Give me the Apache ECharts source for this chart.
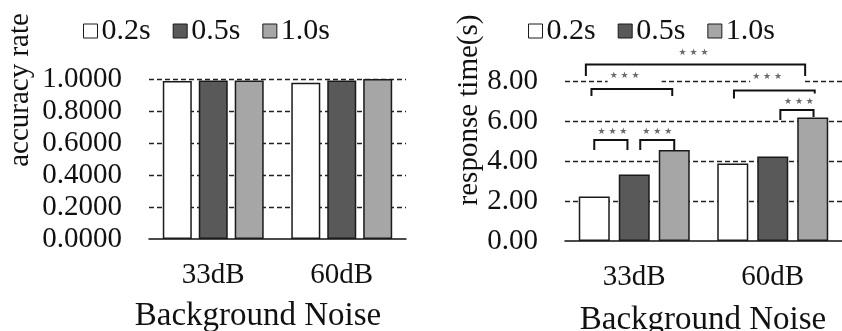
<!DOCTYPE html>
<html>
<head>
<meta charset="utf-8">
<script src="https://cdn.jsdelivr.net/npm/echarts@6/dist/echarts.min.js"></script>
<style>
  html, body { margin: 0; padding: 0; background: #fff; }
  #main { width: 842px; height: 331px; }
</style>
</head>
<body>
<div id="main"></div>
<script>
// values
const categories = ['33dB', '60dB'];
const durations = ['0.2s', '0.5s', '1.0s'];

const accuracy02 = [0.988, 0.977];
const accuracy05 = [0.990, 0.990];
const accuracy10 = [0.990, 1.000];

const time02 = [2.22, 3.88];
const time05 = [3.33, 4.23];
const time10 = [4.55, 6.17];

// significance brackets on the response-time chart
// from/to: [category, bar slot], top/legs/star: seconds
const brackets = [
  { from: [0, 0], to: [0, 0.83], top: 5.05, legs: [4.55, 4.55], star: 5.47, starShift: 0.04 },
  { from: [0, 1.15], to: [0, 2], top: 5.05, legs: [4.55, 4.55], star: 5.47, starShift: 0 },
  { from: [0, -0.07], to: [0, 1.95], top: 7.6, legs: [7.25, 7.25], star: 8.25, starShift: -0.18, mask: true },
  { from: [0, -0.21], to: [1, 1.81], top: 8.83, legs: [8.25, 8.25], star: 9.4, starShift: -0.05 },
  { from: [1, 0.03], to: [1, 2.05], top: 7.52, legs: [7.12, 7.38], star: 8.2, starShift: -0.18, mask: true },
  { from: [1, 1.19], to: [1, 2.02], top: 6.55, legs: [6.05, 6.2], star: 6.97, starShift: 0.05 }
];

const colors = ['#ffffff', '#595959', '#a6a6a6'];
const serif = '"Liberation Serif", "Times New Roman", serif';
const ink = '#111';

const leftBar = { width: 29, gap: 0.24 };
const rightBar = { width: 31, gap: 0.29 };

function barSeries(name, idx, data, axisIdx, bar) {
  return {
    name: name,
    type: 'bar',
    xAxisIndex: axisIdx,
    yAxisIndex: axisIdx,
    data: data,
    barWidth: bar.width,
    barGap: (bar.gap * 100) + '%',
    itemStyle: { color: colors[idx], borderColor: '#1a1a1a', borderWidth: 1.5 },
    silent: true,
    animation: false
  };
}

function xAxis(grid) {
  return {
    type: 'category',
    gridIndex: grid,
    data: categories,
    axisTick: { show: false },
    axisLine: { lineStyle: { color: ink, width: 1.5 } },
    axisLabel: { color: ink, fontFamily: serif, fontSize: 29, margin: 22 }
  };
}

function yAxis(grid, max, interval, digits) {
  return {
    type: 'value',
    gridIndex: grid,
    min: 0,
    max: max,
    interval: interval,
    axisLine: { show: false },
    axisTick: { show: false },
    axisLabel: {
      color: ink, fontFamily: serif, fontSize: 29, margin: 27,
      formatter: v => v.toFixed(digits)
    },
    splitLine: { showMinLine: false, lineStyle: { color: '#222', type: [5, 3], width: 1.3 } }
  };
}

function legend(left) {
  return {
    left: left,
    top: 16,
    padding: 0,
    itemWidth: 14,
    itemHeight: 14,
    itemGap: 22,
    icon: 'rect',
    selectedMode: false,
    itemStyle: { borderColor: '#1a1a1a', borderWidth: 1 },
    textStyle: { color: ink, fontFamily: serif, fontSize: 30, padding: [0, 0, 0, -1] },
    data: durations
  };
}

function title(text, x, y, size, rotate) {
  return {
    type: 'text',
    x: x,
    y: y,
    rotation: rotate ? Math.PI / 2 : 0,
    style: {
      text: text,
      fill: ink,
      font: size + 'px ' + serif,
      textAlign: 'center',
      textVerticalAlign: 'middle'
    }
  };
}

const chart = echarts.init(document.getElementById('main'), null, { renderer: 'canvas' });

chart.setOption({
  animation: false,
  backgroundColor: '#fff',
  legend: [legend(83), legend(528)],
  grid: [
    { left: 149, top: 79, width: 257, height: 160 },
    { left: 565, top: 81, width: 286, height: 160 }
  ],
  xAxis: [xAxis(0), xAxis(1)],
  yAxis: [yAxis(0, 1, 0.2, 4), yAxis(1, 8, 2, 2)],
  series: [
    barSeries(durations[0], 0, accuracy02, 0, leftBar),
    barSeries(durations[1], 1, accuracy05, 0, leftBar),
    barSeries(durations[2], 2, accuracy10, 0, leftBar),
    barSeries(durations[0], 0, time02, 1, rightBar),
    barSeries(durations[1], 1, time05, 1, rightBar),
    barSeries(durations[2], 2, time10, 1, rightBar)
  ]
});

// brackets and titles placed through the right grid's scales
const slot = rightBar.width * (1 + rightBar.gap);
function px(cat, s, v) {
  const p = chart.convertToPixel({ gridIndex: 1 }, [cat, v]);
  return [p[0] + (s - 1) * slot, p[1]];
}

const graphics = [
  title('accuracy rate', 20, 90, 29, true),
  title('response time(s)', 469, 110, 29, true),
  title('Background Noise', 258, 316, 33, false),
  title('Background Noise', 703, 320, 33, false)
];

brackets.forEach(b => {
  const a = px(b.from[0], b.from[1], b.top);
  const c = px(b.to[0], b.to[1], b.top);
  const la = px(b.from[0], b.from[1], b.legs[0]);
  const lc = px(b.to[0], b.to[1], b.legs[1]);
  const sx = (a[0] + c[0]) / 2 + b.starShift * slot;
  const sy = px(0, 1, b.star)[1];
  if (b.mask) {
    graphics.push({
      type: 'rect', z: 10,
      shape: { x: sx - 17, y: sy - 5, width: 54, height: 12 },
      style: { fill: '#fff' }
    });
  }
  graphics.push({
    type: 'polyline', z: 11,
    shape: { points: [[a[0], la[1]], [a[0], a[1]], [c[0], c[1]], [c[0], lc[1]]] },
    style: { stroke: ink, lineWidth: 2, fill: null }
  });
  graphics.push({
    type: 'text', z: 12,
    x: sx, y: sy,
    style: {
      text: '\u2605 \u2605 \u2605',
      fill: '#6b6b6b',
      font: '9px "DejaVu Sans", sans-serif',
      textAlign: 'center',
      textVerticalAlign: 'middle'
    }
  });
});

chart.setOption({ graphic: graphics });
</script>
</body>
</html>
